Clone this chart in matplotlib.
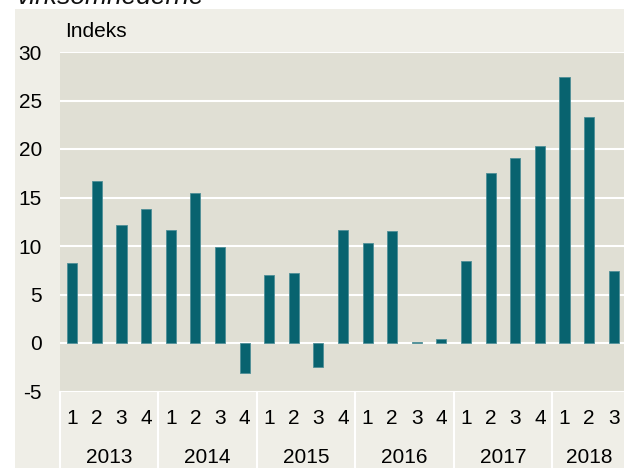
import numpy as np
import matplotlib.pyplot as plt
from matplotlib.patches import Rectangle
import matplotlib.transforms as mtransforms

plt.rcParams['font.family'] = ['Liberation Sans', 'DejaVu Sans']

# Data
years = ['2013', '2014', '2015', '2016', '2017', '2018']
quarters = ['1', '2', '3', '4'] * 5 + ['1', '2', '3']
values = [8.2, 16.7, 12.2, 13.8,
          11.6, 15.5, 9.9, -3.1,
          7.0, 7.2, -2.5, 11.6,
          10.3, 11.5, 0.15, 0.45,
          8.5, 17.5, 19.1, 20.3,
          27.4, 23.3, 7.4]
yticks = [-5, 0, 5, 10, 15, 20, 25, 30]

bar_col = '#08636f'
plot_bg = '#e0dfd4'
panel_bg = '#efeee7'

W, H = 624, 468
fig = plt.figure(figsize=(W / 100, H / 100), dpi=100)
fig.patch.set_facecolor('white')

# light panel behind everything
fig.patches.append(Rectangle((15 / W, 0), 1, 1 - 9 / H, transform=fig.transFigure,
                             facecolor=panel_bg, edgecolor='none', zorder=-1))

# title is cut off at the top edge in the original
fig.text(17 / W, 1 - 4 / H, 'virksomhederne', fontsize=19, style='italic',
         va='baseline', ha='left', color='#111111')

left, right, top, bottom = 60, 626, 52, 391.5
ax = fig.add_axes([left / W, 1 - bottom / H, (right - left) / W, (bottom - top) / H])
ax.set_zorder(1)
ax.set_facecolor(plot_bg)

x = np.arange(len(values))
ax.bar(x, values, width=0.41, color=bar_col, edgecolor='#4f8f97', linewidth=0.6, zorder=3)

ax.set_xlim(-0.5, len(values) - 0.5)
ax.set_ylim(-5, 30)
ax.set_yticks(yticks)
ax.set_yticklabels([str(v) for v in yticks], fontsize=15)
ax.set_xticks([])
ax.tick_params(axis='y', length=0, pad=13)
ax.grid(axis='y', color='white', linewidth=1.5, zorder=1)
ax.set_axisbelow(True)
for s in ax.spines.values():
    s.set_visible(False)

# category labels under the plot
trans = mtransforms.blended_transform_factory(ax.transData, ax.transAxes)
ax_h = bottom - top
q_y = (bottom - 424) / ax_h
y_y = (bottom - 463) / ax_h
for i, q in enumerate(quarters):
    ax.text(i, q_y, q, transform=trans, ha='center', va='baseline', fontsize=15)
for j, yr in enumerate(years):
    start = j * 4 - 0.5
    end = min(start + 4, len(values) - 0.5)
    ax.text((start + end) / 2, y_y, yr, transform=trans, ha='center', va='baseline', fontsize=15)
    ax.plot([start, start], [0, -(H - bottom) / ax_h - 0.01], transform=trans,
            color='white', linewidth=1.5, clip_on=False, zorder=5)

fig.text(65 / W, 1 - 37 / H, 'Indeks', fontsize=15, va='baseline', ha='left')

fig.savefig('out.png', dpi=100)
